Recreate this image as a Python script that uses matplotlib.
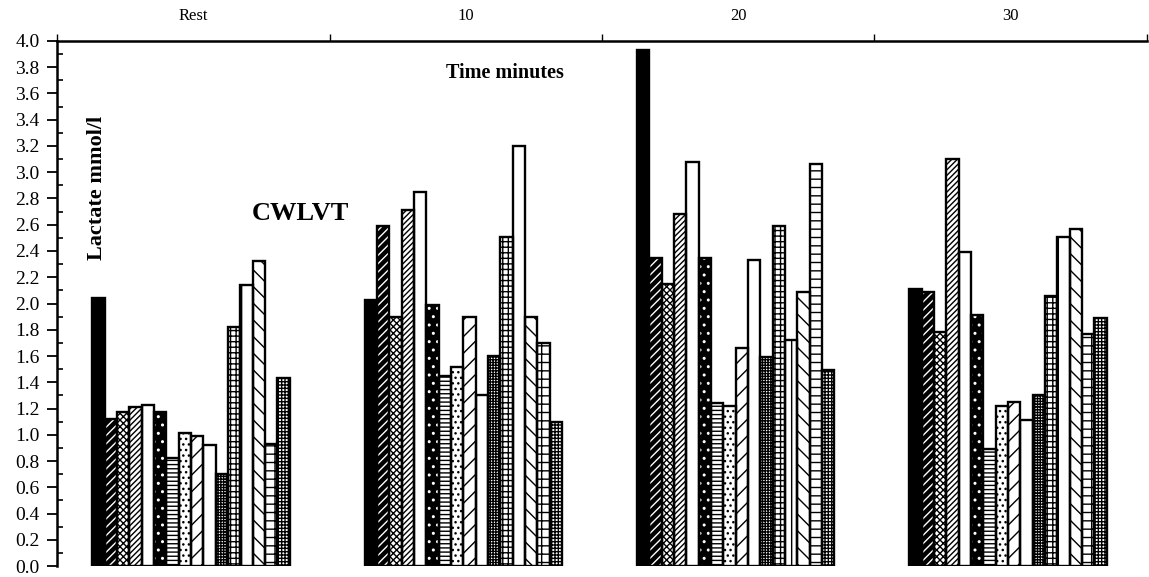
import matplotlib
matplotlib.use("Agg")
import matplotlib.pyplot as plt
from matplotlib.ticker import MultipleLocator, FormatStrFormatter

plt.rcParams['font.family'] = ['Liberation Serif', 'DejaVu Serif']
plt.rcParams['hatch.linewidth'] = 1.0

# Time points (top axis categories)
times = ["Rest", "10", "20", "30"]

# Lactate (mmol/l) for each subject, one list per time point
rest = [2.04, 1.12, 1.17, 1.21, 1.23, 1.17, 0.82, 1.01, 0.99, 0.92, 0.70, 1.82, 2.14, 2.32, 0.93, 1.43]
min10 = [2.03, 2.59, 1.90, 2.71, 2.85, 1.99, 1.45, 1.52, 1.90, 1.30, 1.60, 2.51, 3.20, 1.90, 1.70, 1.10]
min20 = [3.93, 2.35, 2.15, 2.68, 3.08, 2.35, 1.24, 1.22, 1.66, 2.33, 1.59, 2.59, 1.72, 2.09, 3.06, 1.49]
min30 = [2.11, 2.09, 1.78, 3.10, 2.39, 1.91, 0.89, 1.22, 1.25, 1.11, 1.30, 2.06, 2.51, 2.57, 1.77, 1.89]

groups = [rest, min10, min20, min30]

# (face colour, hatch colour, hatch pattern) per subject
styles = [
    ("black", "black", None),
    ("black", "white", "////"),
    ("white", "black", "xxxxx"),
    ("white", "black", "//////"),
    ("white", "black", None),
    ("black", "white", ".."),
    ("white", "black", "----"),
    ("white", "black", "..."),
    ("white", "black", "//"),
    ("white", "black", None),
    ("white", "black", "++++++"),
    ("white", "black", "+++"),
    ("white", "black", "|"),
    ("white", "black", "\\\\"),
    ("white", "black", "--|"),
    ("white", "black", "+++++"),
]

fig = plt.figure(figsize=(11.49, 5.77), dpi=100)
ax = fig.add_axes([0.050, 0.019, 0.948, 0.910])

bw = 0.0453
offset = 0.128
for g, vals in enumerate(groups):
    for i, v in enumerate(vals):
        face, hcol, hatch = styles[i]
        x = g + offset + i * bw
        ax.bar(x, v, width=bw, align='edge', color=face, edgecolor=hcol,
               hatch=hatch, linewidth=0, zorder=2)
        ax.bar(x, v, width=bw, align='edge', facecolor='none',
               edgecolor='black', linewidth=1.7, zorder=3)

ax.set_xlim(0, 4)
ax.set_ylim(0, 4.0)

# Left axis: labelled ticks every 0.2, short inner ticks in between
ax.yaxis.set_major_locator(MultipleLocator(0.2))
ax.yaxis.set_minor_locator(MultipleLocator(0.1))
ax.yaxis.set_major_formatter(FormatStrFormatter('%.1f'))
ax.tick_params(axis='y', which='major', direction='out', length=7, width=1.3,
               labelsize=14, pad=6)
ax.tick_params(axis='y', which='minor', direction='in', length=4, width=1.2)

# Top axis: category boundaries with labels centred between them
ax.xaxis.tick_top()
ax.set_xticks([0, 1, 2, 3, 4])
ax.set_xticklabels([])
ax.set_xticks([0.5, 1.5, 2.5, 3.5], minor=True)
ax.set_xticklabels(times, minor=True)
ax.tick_params(axis='x', which='major', direction='out', length=5, width=1.0)
ax.tick_params(axis='x', which='minor', length=0, labelsize=12, pad=12)

for side in ('right', 'bottom'):
    ax.spines[side].set_visible(False)
ax.spines['left'].set_linewidth(1.8)
ax.spines['top'].set_linewidth(1.8)

ax.text(0.411, 0.939, "Time minutes", transform=ax.transAxes, fontsize=14.5,
        fontweight='bold', ha='center', va='center')
ax.text(0.223, 0.672, "CWLVT", transform=ax.transAxes, fontsize=19,
        fontweight='bold', ha='center', va='center')
ax.text(0.036, 0.72, "Lactate mmol/l", transform=ax.transAxes, fontsize=16,
        fontweight='bold', ha='center', va='center', rotation=90,
        fontstretch='condensed')

fig.savefig("out.png", dpi=100)
